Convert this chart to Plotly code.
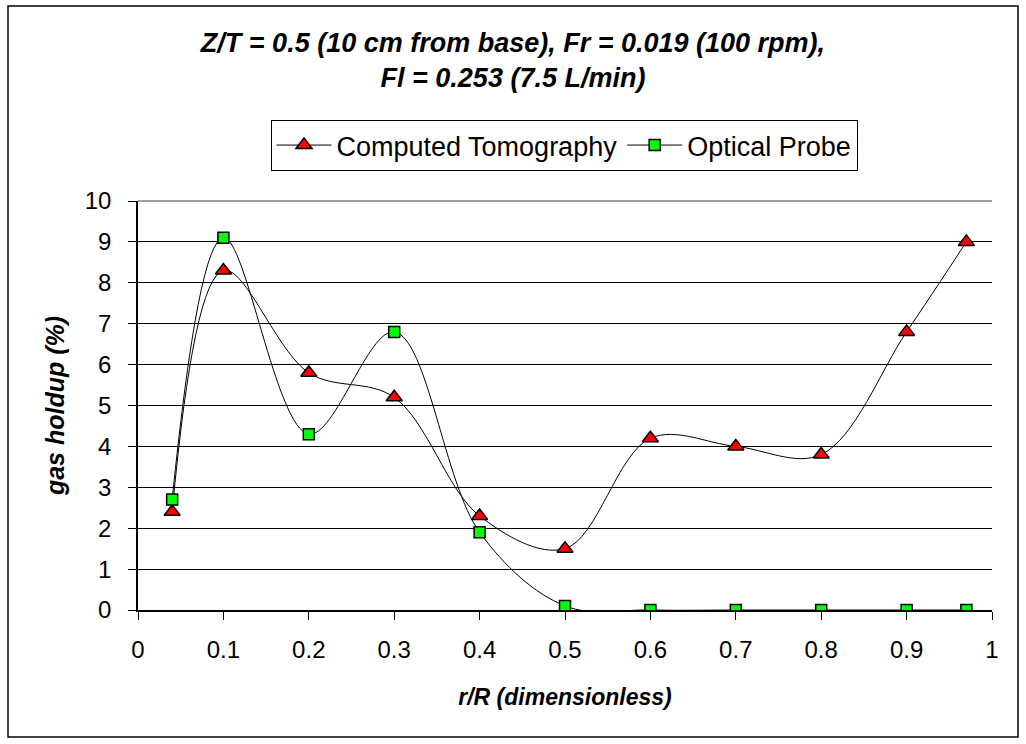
import plotly.graph_objects as go

r_ct = [0.04, 0.1, 0.2, 0.3, 0.4, 0.5, 0.6, 0.7, 0.8, 0.9, 0.97]
holdup_ct = [2.4, 8.3, 5.8, 5.2, 2.3, 1.5, 4.2, 4.0, 3.8, 6.8, 9.0]
r_op = [0.04, 0.1, 0.2, 0.3, 0.4, 0.5, 0.6, 0.7, 0.8, 0.9, 0.97]
holdup_op = [2.7, 9.1, 4.3, 6.8, 1.9, 0.1, 0.0, 0.0, 0.0, 0.0, 0.0]
x_ticks = [0, 0.1, 0.2, 0.3, 0.4, 0.5, 0.6, 0.7, 0.8, 0.9, 1]
y_ticks = [0, 1, 2, 3, 4, 5, 6, 7, 8, 9, 10]

FONT = "Liberation Sans, Arial, sans-serif"

L, R, T, B = 138, 34, 201, 134
PW = 1026 - L - R
PH = 744 - T - B


def px_x(px):
    return (px - L) / PW


def px_y(py):
    return (744 - B - py) / PH


fig = go.Figure()
fig.add_trace(go.Scatter(
    x=r_ct, y=holdup_ct, name="Computed Tomography", mode="lines+markers",
    line=dict(color="black", width=1, shape="spline", smoothing=1.0),
    marker=dict(symbol="triangle-up", size=14, color="#FF0000",
                line=dict(color="black", width=1.5)),
))
fig.add_trace(go.Scatter(
    x=r_op, y=holdup_op, name="Optical Probe", mode="lines+markers",
    line=dict(color="black", width=1, shape="spline", smoothing=1.0),
    marker=dict(symbol="square", size=11, color="#00FF00",
                line=dict(color="black", width=1.5)),
))

fig.update_layout(
    width=1026, height=744,
    margin=dict(l=L, r=R, t=T, b=B),
    paper_bgcolor="white", plot_bgcolor="white",
    font=dict(family=FONT, size=22, color="black"),
    title=dict(
        text="<b><i>Z/T = 0.5 (10 cm from base), Fr = 0.019 (100 rpm),<br>Fl = 0.253 (7.5 L/min)</i></b>",
        x=0.5, xanchor="center", y=0.93, yanchor="top",
        font=dict(family=FONT, size=27, color="black"),
    ),
    legend=dict(
        orientation="h", x=px_x(564), xanchor="center", y=px_y(145.5), yanchor="middle",
        bordercolor="black", borderwidth=1, bgcolor="white",
        font=dict(family=FONT, size=27, color="black"),
        itemwidth=55,
    ),
    xaxis=dict(
        range=[0, 1], tickvals=x_ticks, ticktext=[str(v) for v in x_ticks],
        showgrid=False, zeroline=False,
        showline=True, linecolor="black", linewidth=1.5,
        ticks="outside", ticklen=8, tickcolor="black",
        ticklabelstandoff=9,
        tickfont=dict(size=24),
        title=dict(text="<b><i>r/R (dimensionless)</i></b>", font=dict(size=23), standoff=27),
    ),
    yaxis=dict(
        range=[0, 10], tickvals=y_ticks,
        showgrid=True, gridcolor="black", gridwidth=1,
        zeroline=False,
        showline=True, linecolor="black", linewidth=1.5,
        ticks="outside", ticklen=8, tickcolor="black",
        ticklabelstandoff=12,
        tickfont=dict(size=24),
        title=dict(text="<b><i>gas holdup (%)</i></b>", font=dict(size=25), standoff=13),
    ),
    shapes=[
        dict(type="rect", xref="paper", yref="paper",
             x0=px_x(8), x1=px_x(1018), y0=px_y(737), y1=px_y(6),
             line=dict(color="black", width=1.5), fillcolor="rgba(0,0,0,0)", layer="below"),
        dict(type="line", xref="paper", yref="paper",
             x0=0, x1=1, y0=1, y1=1, line=dict(color="#808080", width=1.5)),
    ],
)

fig.write_html("out.html", config={"displayModeBar": False},
               post_script="document.body.style.margin='0';")
